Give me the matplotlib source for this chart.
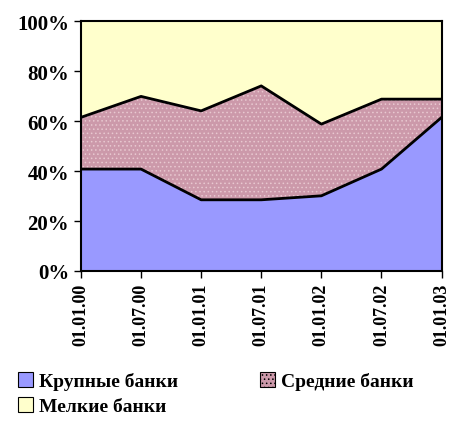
import matplotlib
matplotlib.use("Agg")
import matplotlib.pyplot as plt
import numpy as np

dates = ["01.01.00", "01.07.00", "01.01.01", "01.07.01", "01.01.02", "01.07.02", "01.01.03"]
large = [40.8, 40.8, 28.5, 28.5, 30.1, 40.8, 61.5]
medium = [20.7, 29.1, 35.6, 45.6, 28.7, 28.0, 7.3]
small = [38.5, 30.1, 35.9, 25.9, 41.2, 31.2, 31.2]
names = ["Крупные банки", "Средние банки", "Мелкие банки"]
colors = ["#9999ff", "#cc99aa", "#ffffcc"]

plt.rcParams["font.family"] = ["Liberation Serif", "DejaVu Serif"]
plt.rcParams["font.weight"] = "bold"
plt.rcParams["hatch.color"] = "#e8c8d0"
plt.rcParams["hatch.linewidth"] = 0.6

fig = plt.figure(figsize=(4.52, 4.27), dpi=100)
ax = fig.add_axes([0.179, 0.363, 0.798, 0.585])

x = np.arange(len(dates))
polys = ax.stackplot(x, large, medium, small, colors=colors, labels=names,
                     linewidth=0)
polys[1].set_hatch("....")

# black lines on layer borders
b1 = np.array(large)
b2 = b1 + np.array(medium)
ax.plot(x, b1, color="black", lw=2)
ax.plot(x, b2, color="black", lw=2)

ax.set_xlim(0, len(dates) - 1)
ax.set_ylim(0, 100)
ax.set_xticks(x)
ax.set_xticklabels(dates, rotation=90, fontsize=13, fontweight="bold")
ax.set_yticks(range(0, 101, 20))
ax.set_yticklabels(["%d%%" % v for v in range(0, 101, 20)], fontsize=15, fontweight="bold")
ax.tick_params(direction="out", length=5, width=1, color="black")
for s in ax.spines.values():
    s.set_linewidth(1.5)
    s.set_color("black")

# row-wise order: large, medium / small
order = [0, 2, 1]
leg = fig.legend(handles=[polys[i] for i in order], labels=[names[i] for i in order],
                 loc="upper left", bbox_to_anchor=(0.0, 0.168), ncol=2, frameon=False,
                 handlelength=0.8, handleheight=0.8,
                 handletextpad=0.3, columnspacing=4.2, labelspacing=0.35,
                 prop={"weight": "bold", "size": 14})
for h in leg.legend_handles:
    h.set_edgecolor("black")
    h.set_linewidth(0.8)

fig.savefig("out.png", dpi=100)
